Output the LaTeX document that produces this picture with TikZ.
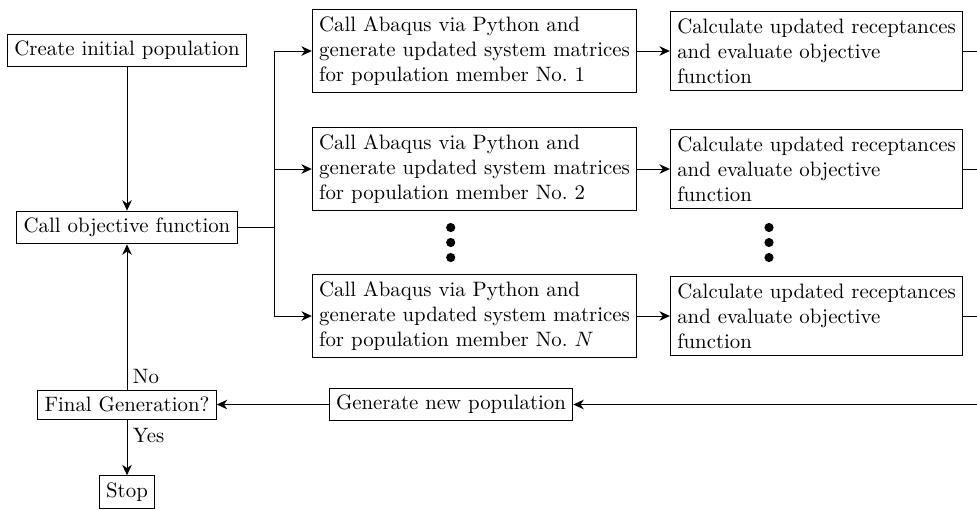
\documentclass[tikz,border=0pt]{standalone}
\usetikzlibrary{arrows.meta}
\begin{document}
\begin{tikzpicture}[x=0.48pt,y=-0.48pt,
  box/.style={draw, inner sep=3.33pt, align=left, line width=0.45pt},
  arr/.style={-{Stealth[length=5pt,width=4.6pt,inset=1.6pt]}},
  conn/.style={line width=0.45pt},
  dotmark/.style={circle, fill, inner sep=0pt, minimum size=4.4pt},
  lbl/.style={inner sep=0pt, anchor=base west}]
\useasboundingbox (0,0) rectangle (977,509);
% left column
\node[box] (create) at (127,50.5) {Create initial population};
\node[box] (callobj) at (127,227.5) {Call objective function};
\node[box] (final) at (127,404.5) {Final Generation?};
\node[box] (stop) at (127,492) {Stop};
% middle column
\node[box] (mid1) at (474.5,51) {Call Abaqus via Python and\\generate updated system matrices\\for population member No.\ 1};
\node[box] (mid2) at (474.5,169) {Call Abaqus via Python and\\generate updated system matrices\\for population member No.\ 2};
\node[box] (midN) at (474.5,316) {Call Abaqus via Python and\\generate updated system matrices\\for population member No.\ $N$};
% right column
\node[box] (rt1) at (816.5,51) {Calculate updated receptances\\and evaluate objective\\function};
\node[box] (rt2) at (816.5,169) {Calculate updated receptances\\and evaluate objective\\function};
\node[box] (rtN) at (816.5,316) {Calculate updated receptances\\and evaluate objective\\function};
% new population
\node[box] (gen) at (451,404.5) {Generate new population};
% dots
\node[dotmark] (ma) at (450.7,227.5) {};
\node[dotmark] (mb) at (450.7,242.5) {};
\node[dotmark] (mc) at (450.7,257.5) {};
\node[dotmark] (ra) at (769,227.5) {};
\node[dotmark] (rb) at (769,242.5) {};
\node[dotmark] (rc) at (769,257.5) {};
% coordinates
\coordinate (br) at (274,227.5);
\coordinate (e1) at (977,51);
\coordinate (e2) at (977,169);
\coordinate (eN) at (977,316);
\coordinate (eb) at (977,404.5);
% connectors
\draw[conn,arr] (create) -- (callobj);
\draw[conn] (callobj.east) -- (br);
\draw[conn,arr] (br) |- (mid1.west);
\draw[conn,arr] (br) |- (mid2.west);
\draw[conn,arr] (br) |- (midN.west);
\draw[conn,arr] (mid1.east) -- (rt1.west);
\draw[conn,arr] (mid2.east) -- (rt2.west);
\draw[conn,arr] (midN.east) -- (rtN.west);
\draw[conn] (rt1.east) -- (e1);
\draw[conn] (rt2.east) -- (e2);
\draw[conn] (rtN.east) -- (eN);
\draw[conn,arr] (eb) -- (gen.east);
\draw[conn,arr] (gen.west) -- (final.east);
\draw[conn,arr] (final) -- (callobj);
\draw[conn,arr] (final) -- (stop);
% labels
\node[lbl] (no) at (132.5,383) {No};
\node[lbl] (yes) at (132.5,442) {Yes};
\end{tikzpicture}
\end{document}
